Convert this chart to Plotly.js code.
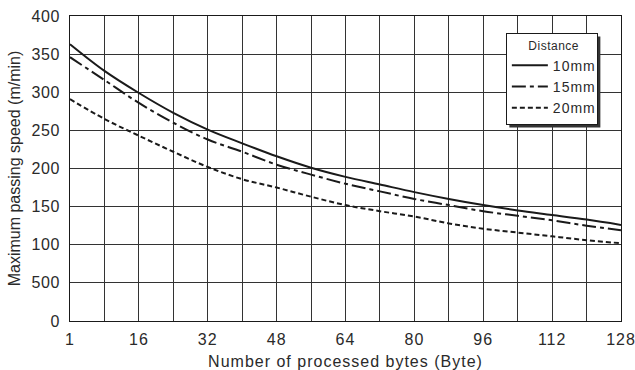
<!DOCTYPE html>
<html>
<head>
<meta charset="utf-8">
<script src="https://cdn.plot.ly/plotly-3.0.1.min.js"></script>
<style>
html,body{margin:0;padding:0;background:#fff;}
#chart{width:635px;height:370px;}
#chart .xtick text, #chart .xtitle, #chart .legendtext {letter-spacing:1px;}
#chart .ytick text {letter-spacing:0.5px;}
#chart .legendtitletext {letter-spacing:0.5px;}
</style>
</head>
<body>
<div id="chart"></div>
<script>
// Number of processed bytes (category positions, equally spaced as in the source chart)
var bytes = ['1','8','16','24','32','40','48','56','64','72','80','88','96','104','112','120','128'];
var byteTickText = ['1','','16','','32','','48','','64','','80','','96','','112','','128'];
// Maximum passing speed (m/min) by sensor distance
var speed10mm = [363, 328, 299, 273, 251, 233, 216, 201, 189, 179, 169, 160, 152, 145, 139, 133, 126];
var speed15mm = [346, 316, 286, 260, 238, 222, 205, 192, 180, 170, 160, 152, 144, 138, 132, 125, 119];
var speed20mm = [291, 265, 243, 222, 202, 186, 175, 163, 152, 144, 137, 128, 121, 116, 111, 106, 102];
var seriesNames = ['10mm', '15mm', '20mm'];
var yTickVals = [0, 50, 100, 150, 200, 250, 300, 350, 400];
var yTickText = ['0', '500', '100', '150', '200', '250', '300', '350', '400'];

var font = 'Liberation Sans, Arial, sans-serif';
var ink = '#1a1a1a';
var textInk = '#2a2a2a';
var traces = [
  {x: bytes, y: speed10mm, name: seriesNames[0], mode: 'lines',
   line: {color: ink, width: 2, shape: 'spline', dash: 'solid'}},
  {x: bytes, y: speed15mm, name: seriesNames[1], mode: 'lines',
   line: {color: ink, width: 2, shape: 'spline', dash: '14px,4px,4px,4px'}},
  {x: bytes, y: speed20mm, name: seriesNames[2], mode: 'lines',
   line: {color: ink, width: 2, shape: 'spline', dash: '5px,3px'}}
];

var layout = {
  width: 635, height: 370,
  margin: {l: 70, r: 14, t: 16, b: 49, pad: 0},
  paper_bgcolor: '#fff', plot_bgcolor: '#fff',
  font: {family: font, size: 16, color: textInk},
  showlegend: true,
  legend: {
    x: 0.958, xanchor: 'right', y: 0.944, yanchor: 'top',
    bgcolor: '#fff', bordercolor: ink, borderwidth: 1,
    font: {family: font, size: 14, color: textInk},
    title: {text: 'Distance', side: 'top center', font: {family: font, size: 12, color: textInk}},
    tracegroupgap: 0, itemwidth: 36
  },
  xaxis: {
    type: 'category', range: [0, 16],
    tickmode: 'array', tickvals: bytes, ticktext: byteTickText,
    showgrid: true, gridcolor: '#333', gridwidth: 1,
    showline: true, mirror: true, linecolor: ink, linewidth: 1,
    ticks: '', zeroline: false, fixedrange: true, ticklabelstandoff: 4,
    tickfont: {family: font, size: 16, color: textInk},
    title: {text: 'Number of processed bytes (Byte)', standoff: 13, font: {family: font, size: 16, color: textInk}}
  },
  yaxis: {
    range: [0, 400],
    tickmode: 'array', tickvals: yTickVals, ticktext: yTickText,
    showgrid: true, gridcolor: '#333', gridwidth: 1,
    showline: true, mirror: true, linecolor: ink, linewidth: 1,
    ticks: '', zeroline: false, fixedrange: true, ticklabelstandoff: 6,
    tickfont: {family: font, size: 16, color: textInk},
    title: {text: 'Maximum passing speed (m/min)', standoff: 8, font: {family: font, size: 16, color: textInk}}
  }
};

Plotly.newPlot('chart', traces, layout, {displayModeBar: false, staticPlot: true}).then(function (gd) {
  // drop shadow behind the legend box
  var bg = gd.querySelector('.legend .bg');
  if (!bg) return;
  var r = bg.getBoundingClientRect();
  var c = gd.getBoundingClientRect();
  var fs = gd._fullLayout._size;
  var off = 3;
  var x0 = (r.left - c.left + off - fs.l) / fs.w;
  var x1 = (r.right - c.left + off - fs.l) / fs.w;
  var y0 = 1 - (r.bottom - c.top + off - fs.t) / fs.h;
  var y1 = 1 - (r.top - c.top + off - fs.t) / fs.h;
  Plotly.relayout(gd, {shapes: [{type: 'rect', xref: 'paper', yref: 'paper', layer: 'above',
    x0: x0, x1: x1, y0: y0, y1: y1, fillcolor: '#333', line: {width: 0}}]});
});
</script>
</body>
</html>
